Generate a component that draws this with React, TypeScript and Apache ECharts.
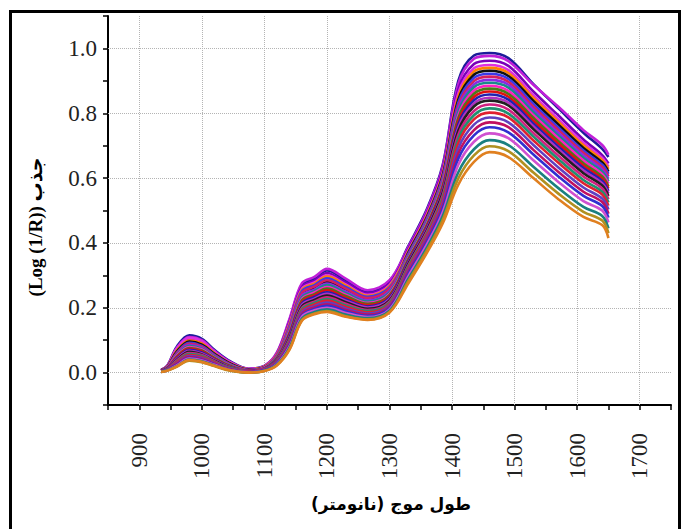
import React, { useEffect, useRef } from "react";
import * as echarts from "echarts";

// Wavelength sample positions (nm)
const wavelengths = [935, 945, 960, 980, 1000, 1020, 1045, 1075, 1100, 1120, 1140, 1160, 1180, 1200, 1230, 1265, 1300, 1330, 1360, 1385, 1410, 1435, 1460, 1490, 1530, 1570, 1610, 1640, 1650];

// Absorbance spectra Log(1/R) (top of band to bottom)
const spectrum01 = [0.008, 0.022, 0.080, 0.115, 0.104, 0.070, 0.035, 0.012, 0.021, 0.060, 0.161, 0.271, 0.290, 0.315, 0.285, 0.250, 0.281, 0.390, 0.505, 0.640, 0.900, 0.978, 0.986, 0.970, 0.890, 0.815, 0.740, 0.690, 0.665];
const spectrum02 = [0.008, 0.021, 0.076, 0.110, 0.100, 0.067, 0.033, 0.011, 0.020, 0.062, 0.165, 0.276, 0.295, 0.320, 0.290, 0.254, 0.285, 0.387, 0.501, 0.635, 0.890, 0.968, 0.977, 0.961, 0.888, 0.820, 0.748, 0.702, 0.672];
const spectrum03 = [0.007, 0.020, 0.071, 0.104, 0.094, 0.063, 0.031, 0.010, 0.019, 0.058, 0.156, 0.264, 0.284, 0.307, 0.278, 0.245, 0.275, 0.381, 0.494, 0.626, 0.874, 0.952, 0.962, 0.946, 0.867, 0.793, 0.719, 0.671, 0.645];
const spectrum04 = [0.007, 0.020, 0.074, 0.107, 0.097, 0.065, 0.032, 0.011, 0.019, 0.056, 0.151, 0.259, 0.278, 0.300, 0.272, 0.240, 0.270, 0.376, 0.489, 0.618, 0.862, 0.939, 0.949, 0.933, 0.855, 0.781, 0.709, 0.662, 0.635];
const spectrum05 = [0.007, 0.019, 0.068, 0.099, 0.090, 0.060, 0.029, 0.010, 0.018, 0.055, 0.148, 0.255, 0.274, 0.296, 0.269, 0.237, 0.267, 0.373, 0.485, 0.613, 0.852, 0.929, 0.940, 0.924, 0.847, 0.773, 0.701, 0.655, 0.628];
const spectrum06 = [0.007, 0.018, 0.065, 0.096, 0.086, 0.058, 0.028, 0.009, 0.017, 0.050, 0.137, 0.241, 0.261, 0.280, 0.255, 0.226, 0.255, 0.369, 0.481, 0.608, 0.842, 0.919, 0.931, 0.915, 0.838, 0.765, 0.693, 0.648, 0.620];
const spectrum07 = [0.006, 0.017, 0.061, 0.092, 0.082, 0.055, 0.026, 0.008, 0.016, 0.053, 0.144, 0.251, 0.270, 0.291, 0.264, 0.234, 0.263, 0.366, 0.477, 0.602, 0.833, 0.909, 0.922, 0.906, 0.829, 0.756, 0.685, 0.641, 0.613];
const spectrum08 = [0.006, 0.017, 0.059, 0.089, 0.080, 0.053, 0.025, 0.008, 0.016, 0.052, 0.140, 0.246, 0.265, 0.285, 0.259, 0.230, 0.259, 0.362, 0.473, 0.597, 0.823, 0.899, 0.913, 0.897, 0.820, 0.748, 0.678, 0.634, 0.605];
const spectrum09 = [0.006, 0.016, 0.056, 0.085, 0.077, 0.051, 0.024, 0.007, 0.015, 0.048, 0.133, 0.237, 0.256, 0.275, 0.250, 0.223, 0.251, 0.359, 0.469, 0.591, 0.814, 0.889, 0.903, 0.888, 0.812, 0.739, 0.670, 0.627, 0.598];
const spectrum10 = [0.005, 0.015, 0.054, 0.082, 0.074, 0.049, 0.023, 0.007, 0.014, 0.047, 0.129, 0.232, 0.251, 0.270, 0.245, 0.219, 0.247, 0.356, 0.465, 0.586, 0.804, 0.880, 0.894, 0.879, 0.803, 0.731, 0.662, 0.620, 0.590];
const spectrum11 = [0.005, 0.015, 0.052, 0.079, 0.071, 0.047, 0.022, 0.006, 0.014, 0.045, 0.125, 0.227, 0.247, 0.264, 0.240, 0.215, 0.243, 0.352, 0.460, 0.581, 0.794, 0.870, 0.885, 0.869, 0.794, 0.723, 0.654, 0.612, 0.583];
const spectrum12 = [0.005, 0.014, 0.049, 0.076, 0.068, 0.045, 0.021, 0.006, 0.013, 0.044, 0.121, 0.223, 0.242, 0.259, 0.236, 0.212, 0.239, 0.349, 0.456, 0.575, 0.785, 0.860, 0.876, 0.860, 0.786, 0.714, 0.646, 0.605, 0.575];
const spectrum13 = [0.005, 0.013, 0.047, 0.073, 0.065, 0.043, 0.019, 0.006, 0.012, 0.042, 0.118, 0.218, 0.238, 0.254, 0.231, 0.208, 0.235, 0.345, 0.452, 0.570, 0.775, 0.850, 0.867, 0.851, 0.777, 0.706, 0.639, 0.598, 0.568];
const spectrum14 = [0.005, 0.013, 0.044, 0.070, 0.062, 0.041, 0.018, 0.005, 0.012, 0.040, 0.114, 0.213, 0.233, 0.248, 0.226, 0.204, 0.231, 0.342, 0.448, 0.564, 0.766, 0.840, 0.858, 0.842, 0.768, 0.697, 0.631, 0.591, 0.560];
const spectrum15 = [0.004, 0.012, 0.042, 0.067, 0.059, 0.039, 0.017, 0.005, 0.011, 0.039, 0.110, 0.209, 0.228, 0.243, 0.222, 0.201, 0.227, 0.338, 0.444, 0.559, 0.756, 0.830, 0.848, 0.833, 0.760, 0.689, 0.623, 0.584, 0.553];
const spectrum16 = [0.004, 0.011, 0.039, 0.064, 0.056, 0.037, 0.016, 0.004, 0.010, 0.037, 0.106, 0.204, 0.224, 0.238, 0.217, 0.197, 0.223, 0.335, 0.440, 0.554, 0.746, 0.821, 0.839, 0.824, 0.751, 0.681, 0.615, 0.577, 0.545];
const spectrum17 = [0.004, 0.011, 0.037, 0.060, 0.054, 0.035, 0.015, 0.004, 0.010, 0.036, 0.102, 0.199, 0.219, 0.232, 0.212, 0.193, 0.219, 0.330, 0.435, 0.546, 0.734, 0.807, 0.827, 0.811, 0.739, 0.669, 0.605, 0.568, 0.535];
const spectrum18 = [0.004, 0.010, 0.034, 0.057, 0.051, 0.033, 0.014, 0.003, 0.009, 0.034, 0.099, 0.195, 0.215, 0.227, 0.207, 0.190, 0.215, 0.326, 0.429, 0.539, 0.721, 0.794, 0.815, 0.799, 0.728, 0.658, 0.594, 0.558, 0.525];
const spectrum19 = [0.003, 0.010, 0.032, 0.054, 0.048, 0.031, 0.012, 0.003, 0.009, 0.032, 0.095, 0.190, 0.210, 0.222, 0.203, 0.186, 0.211, 0.321, 0.424, 0.532, 0.708, 0.781, 0.802, 0.787, 0.716, 0.647, 0.584, 0.549, 0.515];
const spectrum20 = [0.003, 0.009, 0.029, 0.051, 0.045, 0.029, 0.011, 0.002, 0.008, 0.031, 0.091, 0.186, 0.205, 0.216, 0.198, 0.182, 0.207, 0.315, 0.417, 0.523, 0.692, 0.765, 0.787, 0.772, 0.702, 0.633, 0.571, 0.537, 0.503];
const spectrum21 = [0.003, 0.008, 0.027, 0.048, 0.042, 0.027, 0.010, 0.002, 0.007, 0.029, 0.087, 0.181, 0.201, 0.211, 0.193, 0.179, 0.203, 0.310, 0.411, 0.514, 0.676, 0.748, 0.772, 0.757, 0.687, 0.619, 0.558, 0.526, 0.490];
const spectrum22 = [0.003, 0.008, 0.024, 0.045, 0.039, 0.025, 0.009, 0.001, 0.007, 0.028, 0.083, 0.176, 0.196, 0.206, 0.189, 0.175, 0.199, 0.304, 0.404, 0.505, 0.660, 0.732, 0.757, 0.741, 0.673, 0.605, 0.545, 0.514, 0.478];
const spectrum23 = [0.002, 0.007, 0.022, 0.043, 0.037, 0.024, 0.008, 0.001, 0.006, 0.026, 0.080, 0.172, 0.192, 0.200, 0.184, 0.171, 0.195, 0.297, 0.396, 0.494, 0.641, 0.712, 0.738, 0.723, 0.655, 0.588, 0.529, 0.500, 0.463];
const spectrum24 = [0.002, 0.007, 0.020, 0.040, 0.035, 0.022, 0.007, 0.000, 0.006, 0.024, 0.076, 0.167, 0.187, 0.195, 0.179, 0.168, 0.191, 0.289, 0.386, 0.482, 0.618, 0.689, 0.717, 0.702, 0.635, 0.569, 0.511, 0.483, 0.445];
const spectrum25 = [0.002, 0.006, 0.018, 0.037, 0.032, 0.020, 0.006, 0.000, 0.005, 0.023, 0.072, 0.162, 0.182, 0.190, 0.174, 0.164, 0.187, 0.282, 0.378, 0.471, 0.599, 0.670, 0.698, 0.683, 0.617, 0.552, 0.496, 0.469, 0.430];
const spectrum26 = [0.002, 0.006, 0.019, 0.039, 0.033, 0.021, 0.007, 0.000, 0.005, 0.022, 0.070, 0.160, 0.180, 0.187, 0.172, 0.162, 0.185, 0.275, 0.370, 0.460, 0.580, 0.650, 0.680, 0.665, 0.600, 0.535, 0.480, 0.455, 0.415];

const spectra = [
  spectrum01, spectrum02, spectrum03, spectrum04, spectrum05, spectrum06, spectrum07,
  spectrum08, spectrum09, spectrum10, spectrum11, spectrum12, spectrum13, spectrum14,
  spectrum15, spectrum16, spectrum17, spectrum18, spectrum19, spectrum20, spectrum21,
  spectrum22, spectrum23, spectrum24, spectrum25, spectrum26,
];

const lineColors = [
  "#1c1c9a", "#c020d8", "#7a00b8", "#e030e0", "#ff8000", "#101010", "#3a3ae8",
  "#d42060", "#8a2be2", "#1a8a8a", "#ff20c0", "#4b7a1a", "#e01010", "#2020b0",
  "#b030c0", "#202020", "#d02080", "#209070", "#e02030", "#6040c0", "#c01060",
  "#3030d0", "#d050d0", "#1a8080", "#b09020", "#e08020",
];

const xMajorTicks = [900, 1000, 1100, 1200, 1300, 1400, 1500, 1600, 1700];
const yMajorTicks = [0, 0.2, 0.4, 0.6, 0.8, 1.0];

const xAxisTitle = "\u0637\u0648\u0644 \u0645\u0648\u062c (\u0646\u0627\u0646\u0648\u0645\u062a\u0631)\u200F";
const yAxisTitle = "(Log (1/R)) \u062c\u0630\u0628";

const serif = "'Liberation Serif', 'Times New Roman', serif";

export default function App() {
  const ref = useRef<HTMLDivElement>(null);

  useEffect(() => {
    if (!ref.current) return;
    const chart = echarts.init(ref.current, undefined, { renderer: "svg" });

    const curveSeries = spectra.map((s, i) => ({
      type: "line",
      name: "s" + (i + 1),
      data: wavelengths.map((w, j) => [w, s[j]]),
      showSymbol: false,
      symbol: "none",
      smooth: 0.35,
      silent: true,
      z: 3,
      lineStyle: { width: 2.6, color: lineColors[i % lineColors.length] },
    }));

    const gridSeries = {
      type: "line",
      name: "grid",
      data: [[850, -0.1]],
      showSymbol: false,
      symbol: "none",
      silent: true,
      lineStyle: { opacity: 0 },
      z: 1,
      markLine: {
        silent: true,
        z: 1,
        symbol: ["none", "none"],
        label: { show: false },
        emphasis: { disabled: true },
        lineStyle: { type: "dotted", color: "#b4b4b4", width: 1 },
        data: [
          ...xMajorTicks.map((v) => ({ xAxis: v })),
          ...yMajorTicks.map((v) => ({ yAxis: v })),
        ],
      },
    };

    chart.setOption({
      animation: false,
      backgroundColor: "#ffffff",
      grid: { left: 108, top: 16, right: 12, bottom: 124, containLabel: false },
      xAxis: {
        type: "value",
        min: 850,
        max: 1750,
        interval: 50,
        axisLine: { show: true, onZero: false, lineStyle: { color: "#000", width: 2 } },
        axisTick: { show: true, length: 5, lineStyle: { color: "#000", width: 1.5 } },
        splitLine: { show: false },
        axisLabel: {
          rotate: 90,
          margin: 28,
          fontSize: 23,
          fontFamily: serif,
          color: "#222",
          showMinLabel: true,
          showMaxLabel: true,
          formatter: (v: number) => (xMajorTicks.indexOf(Math.round(v)) >= 0 ? String(Math.round(v)) : ""),
        },
      },
      yAxis: {
        type: "value",
        min: -0.1,
        max: 1.1,
        interval: 0.1,
        axisLine: { show: true, onZero: false, lineStyle: { color: "#000", width: 2 } },
        axisTick: { show: true, length: 5, lineStyle: { color: "#000", width: 1.5 } },
        splitLine: { show: false },
        axisLabel: {
          margin: 11,
          fontSize: 23,
          fontFamily: serif,
          color: "#222",
          formatter: (v: number) => {
            const k = Math.round(v * 10);
            return k >= 0 && k <= 10 && k % 2 === 0 ? (k / 10).toFixed(1) : "";
          },
        },
      },
      graphic: [
        {
          type: "rect",
          silent: true,
          shape: { x: 10.5, y: 11.5, width: 669, height: 540 },
          style: { fill: "none", stroke: "#000", lineWidth: 3 },
          z: 10,
        },
        {
          type: "text",
          silent: true,
          x: 391,
          y: 504,
          style: {
            text: xAxisTitle,
            fontSize: 17,
            fontWeight: "bold",
            fontFamily: "DejaVu Sans",
            fill: "#000",
            align: "center",
            verticalAlign: "middle",
            textAlign: "center",
            textVerticalAlign: "middle",
          },
        },
        {
          type: "text",
          silent: true,
          x: 35,
          y: 227,
          rotation: Math.PI / 2,
          style: {
            text: yAxisTitle,
            fontSize: 19,
            fontWeight: "bold",
            fontFamily: "'Liberation Serif', 'DejaVu Sans'",
            fill: "#000",
            align: "center",
            verticalAlign: "middle",
            textAlign: "center",
            textVerticalAlign: "middle",
          },
        },
      ],
      series: [gridSeries, ...curveSeries],
    });

    return () => chart.dispose();
  }, []);

  return (
    <div
      ref={ref}
      style={{ position: "fixed", left: 0, top: 0, width: 683, height: 529, background: "#fff" }}
    />
  );
}
